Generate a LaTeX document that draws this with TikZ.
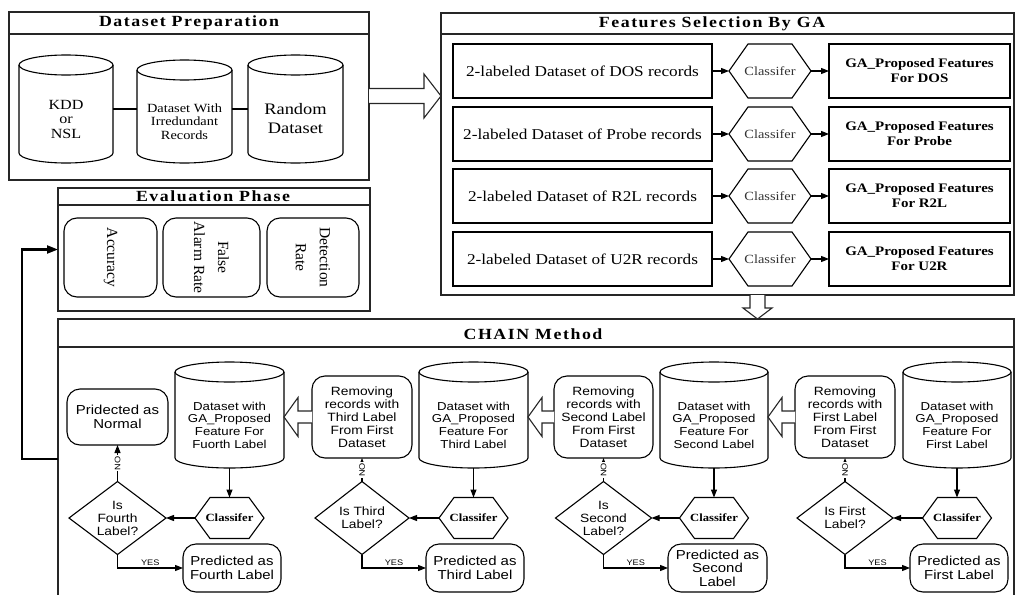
\documentclass[tikz,border=0pt]{standalone}
\usepackage{fontspec}
\setmainfont{Liberation Serif}[FakeStretch=1.15]
\setsansfont{Liberation Sans}[FakeStretch=1.15]
\newfontfamily\ttlfam{Liberation Serif}[FakeStretch=1.15,LetterSpace=10]
\newfontfamily\rotfam{Liberation Serif}
\usetikzlibrary{arrows.meta}

\newcommand\cylout[3]{%
  \draw[plainline] ([yshift=#3]#1.north west) -- ([yshift=#3]#1.south west)
    arc[start angle=180,end angle=360,x radius=#2,y radius=#3] -- ([yshift=#3]#1.north east);
  \draw[plainline] ([yshift=#3]#1.north) ellipse[x radius=#2,y radius=#3];}
\newcommand\hexout[2]{%
  \draw[plainline] (#1.west) -- ([xshift=#2]#1.north west) -- ([xshift=-#2]#1.north east)
    -- (#1.east) -- ([xshift=-#2]#1.south east) -- ([xshift=#2]#1.south west) -- cycle;}
\newcommand\diaout[1]{%
  \draw[plainline] (#1.north) -- (#1.east) -- (#1.south) -- (#1.west) -- cycle;}
\newcommand\hollowleft[2]{%
  \draw[hollowline] ([yshift=6pt]#1.west) -- ([xshift=14pt,yshift=6pt]#2)
    -- ([xshift=14pt,yshift=19.5pt]#2) -- (#2) -- ([xshift=14pt,yshift=-19.5pt]#2)
    -- ([xshift=14pt,yshift=-6pt]#2) -- ([yshift=-6pt]#1.west);}

\newcommand\ttlfont{\ttlfam\bfseries\fontsize{15.5}{18}\selectfont}
\newcommand\rowfont{\fontsize{15}{18}\selectfont}
\newcommand\gafont{\bfseries\fontsize{13}{15}\selectfont}
\newcommand\clsfont{\color{black!80}\fontsize{12.5}{14}\selectfont}
\newcommand\hexbold{\bfseries\fontsize{11}{13}\selectfont}
\newcommand\evfont{\rotfam\fontsize{15.5}{24}\selectfont}
\newcommand\sbody{\sffamily\fontsize{12}{13}\selectfont}
\newcommand\spred{\sffamily\fontsize{13}{14}\selectfont}
\newcommand\scyl{\sffamily\fontsize{11.5}{12.7}\selectfont}
\newcommand\ssmall{\sffamily\fontsize{8}{8}\selectfont}

\begin{document}
\begin{tikzpicture}[x=1pt,y=1pt,
  panel/.style={draw=black!85, line width=1.2pt, inner sep=0pt, outer sep=0pt},
  panelline/.style={draw=black!85, line width=1.2pt},
  plain/.style={draw=black, line width=1.1pt, inner sep=0pt, outer sep=0pt},
  plainline/.style={draw=black, line width=1.1pt},
  rbox/.style={plain, rounded corners=13pt},
  shp/.style={inner sep=0pt, outer sep=0pt},
  arr/.style={draw=black, line width=1.1pt, -{Triangle[length=8pt,width=6pt]}},
  hollowline/.style={draw=black!85, line width=1.1pt, fill=white, line join=miter},
  fb/.style={draw=black, line width=2.2pt, -{Triangle[length=11pt,width=8pt]}},
  ttl/.style={font=\ttlfont, inner sep=0pt}
]
\useasboundingbox (0,0) rectangle (1016,-594);

% ---------------- Dataset Preparation ----------------
\node[panel, minimum width=360pt, minimum height=168pt] (dp) at (189,-96) {};
\draw[panelline] ([yshift=-22pt]dp.north west) -- ([yshift=-22pt]dp.north east);
\node[ttl] (dpt) at (189,-23) {Dataset Preparation};

\node[shp, minimum width=94pt, minimum height=88pt, align=center,
      font=\fontsize{14}{14.5}\selectfont] (ka) at (66,-119) {KDD\\or\\NSL};
\cylout{ka}{47pt}{10pt}
\node[shp, minimum width=95pt, minimum height=83pt, align=center,
      font=\fontsize{12.5}{13.5}\selectfont] (kb) at (184.5,-121.5) {Dataset With\\Irredundant\\Records};
\cylout{kb}{47.5pt}{10pt}
\node[shp, minimum width=95pt, minimum height=88pt, align=center,
      font=\fontsize{16}{19}\selectfont] (kc) at (295.5,-119) {Random\\Dataset};
\cylout{kc}{47.5pt}{10pt}
\coordinate (ylink) at (0,-109);
\draw[plainline] (ka.east |- ylink) -- (kb.west |- ylink);
\draw[plainline] (kb.east |- ylink) -- (kc.west |- ylink);

% ---------------- Features Selection By GA ----------------
\node[panel, minimum width=573pt, minimum height=282pt] (fs) at (727.5,-154) {};
\draw[panelline] ([yshift=-21pt]fs.north west) -- ([yshift=-21pt]fs.north east);
\node[ttl] (fst) at (712,-24) {Features Selection By GA};

\foreach \n/\y/\t in {dos/71/DOS, probe/134/Probe, rtl/196/R2L, utr/259/U2R}{
  \node[plain, minimum width=259pt, minimum height=54pt, font=\rowfont] (r\n) at (582.5,-\y) {2-labeled Dataset of \t\ records};
  \node[shp, minimum width=82pt, minimum height=54pt, font=\clsfont] (h\n) at (770,-\y) {Classifer};
  \hexout{h\n}{19pt}
  \node[plain, minimum width=181pt, minimum height=54pt, align=center, font=\gafont] (g\n) at (919.5,-\y) {GA\_Proposed Features\\For \t};
  \draw[arr] (r\n.east) -- (h\n.west);
  \draw[arr] (h\n.east) -- (g\n.west);
}

% big hollow arrow Dataset Preparation -> Features
\coordinate (t0) at (fs.west |- dp.east);
\draw[hollowline] ([yshift=7.5pt]dp.east) -- ([xshift=-17pt,yshift=7.5pt]t0)
  -- ([xshift=-17pt,yshift=22pt]t0) -- (t0) -- ([xshift=-17pt,yshift=-22pt]t0)
  -- ([xshift=-17pt,yshift=-7.5pt]t0) -- ([yshift=-7.5pt]dp.east);

% ---------------- Evaluation Phase ----------------
\node[panel, minimum width=312pt, minimum height=123pt] (ev) at (214,-249.5) {};
\draw[panelline] ([yshift=-17pt]ev.north west) -- ([yshift=-17pt]ev.north east);
\node[ttl] (evt) at (213,-196.5) {Evaluation Phase};
\node[rbox, rotate=-90, minimum width=79pt, minimum height=93pt, align=center, font=\evfont] (acc) at (110.5,-257.5) {Accuracy};
\node[rbox, rotate=-90, minimum width=79pt, minimum height=97pt, align=center, font=\evfont] (far) at (211.5,-257.5) {False\\Alarm Rate};
\node[rbox, rotate=-90, minimum width=79pt, minimum height=92pt, align=center, font=\evfont] (det) at (313,-257.5) {Detection\\Rate};

% ---------------- CHAIN Method ----------------
\node[panel, minimum width=956pt, minimum height=280pt] (chain) at (536,-459) {};
\draw[panelline] ([yshift=-28pt]chain.north west) -- ([yshift=-28pt]chain.north east);
\node[ttl] (cht) at (533,-334) {CHAIN Method};

% down hollow arrow Features -> CHAIN
\coordinate (x5) at (757.5,0);
\coordinate (s5) at (x5 |- fs.south);
\coordinate (t5) at (x5 |- chain.north);
\draw[hollowline] ([xshift=-7.5pt]s5) -- ([xshift=-7.5pt,yshift=11pt]t5)
  -- ([xshift=-14.5pt,yshift=11pt]t5) -- (t5) -- ([xshift=14.5pt,yshift=11pt]t5)
  -- ([xshift=7.5pt,yshift=11pt]t5) -- ([xshift=7.5pt]s5);

% feedback to evaluation
\draw[fb] (chain.west) -- ++(-36pt,0) |- (ev.west);

% column 1 (first label)
\node[shp, minimum width=108pt, minimum height=86pt, align=center, font=\scyl] (c1) at (957,-425) {Dataset with\\GA\_Proposed\\Feature For\\First Label};
\cylout{c1}{54pt}{10pt}
\node[shp, minimum width=69pt, minimum height=41pt, font=\hexbold] (h1) at (957,-518) {Classifer};
\hexout{h1}{15pt}
\node[shp, minimum width=96pt, minimum height=73pt, align=center, font=\sbody] (d1) at (845,-518) {Is First\\Label?};
\diaout{d1}
\node[rbox, minimum width=98pt, minimum height=48pt, align=center, font=\spred] (p1) at (959,-568) {Predicted as\\First Label};
\node[rbox, minimum width=100pt, minimum height=82pt, align=center, font=\sbody] (m1) at (845,-417) {Removing\\records with\\First Label\\From First\\Dataset};

% column 2 (second label)
\node[shp, minimum width=108pt, minimum height=86pt, align=center, font=\scyl] (c2) at (714,-425) {Dataset with\\GA\_Proposed\\Feature For\\Second Label};
\cylout{c2}{54pt}{10pt}
\node[shp, minimum width=69pt, minimum height=41pt, font=\hexbold] (h2) at (714,-518) {Classifer};
\hexout{h2}{15pt}
\node[shp, minimum width=96pt, minimum height=73pt, align=center, font=\sbody] (d2) at (603.5,-518) {Is\\Second\\Label?};
\diaout{d2}
\node[rbox, minimum width=99pt, minimum height=48pt, align=center, font=\sffamily\fontsize{13}{13.5}\selectfont] (p2) at (717.5,-568) {Predicted as\\Second\\Label};
\node[rbox, minimum width=99pt, minimum height=82pt, align=center, font=\sbody] (m2) at (603.5,-417) {Removing\\records with\\Second Label\\From First\\Dataset};

% column 3 (third label)
\node[shp, minimum width=109pt, minimum height=86pt, align=center, font=\scyl] (c3) at (473.5,-425) {Dataset with\\GA\_Proposed\\Feature For\\Third Label};
\cylout{c3}{54.5pt}{10pt}
\node[shp, minimum width=69pt, minimum height=41pt, font=\hexbold] (h3) at (473.5,-518) {Classifer};
\hexout{h3}{15pt}
\node[shp, minimum width=94pt, minimum height=73pt, align=center, font=\sbody] (d3) at (362,-518) {Is Third\\Label?};
\diaout{d3}
\node[rbox, minimum width=98pt, minimum height=48pt, align=center, font=\spred] (p3) at (475,-568) {Predicted as\\Third Label};
\node[rbox, minimum width=100pt, minimum height=82pt, align=center, font=\sbody] (m3) at (362,-417) {Removing\\records with\\Third Label\\From First\\Dataset};

% column 4 (fourth label)
\node[shp, minimum width=109pt, minimum height=86pt, align=center, font=\scyl] (c4) at (229.5,-425) {Dataset with\\GA\_Proposed\\Feature For\\Fuorth Label};
\cylout{c4}{54.5pt}{10pt}
\node[shp, minimum width=69pt, minimum height=41pt, font=\hexbold] (h4) at (229.5,-518) {Classifer};
\hexout{h4}{15pt}
\node[shp, minimum width=97pt, minimum height=73pt, align=center, font=\sbody] (d4) at (117.5,-518) {Is\\Fourth\\Label?};
\diaout{d4}
\node[rbox, minimum width=98pt, minimum height=48pt, align=center, font=\spred] (p4) at (232,-568) {Predicted as\\Fourth Label};
\node[rbox, minimum width=101pt, minimum height=56pt, align=center, font=\spred] (n4) at (117.5,-417) {Pridected as\\Normal};

% connectors in each column
\foreach \i in {1,2,3,4}{
  \draw[arr] (c\i.south) -- (h\i.north);
  \draw[arr] (h\i.west) -- (d\i.east);
  \draw[arr] (d\i.south) |- (p\i.west) node[pos=0.75, above=1.5pt, font=\ssmall, inner sep=0pt] {YES};
}
\foreach \i in {1,2,3}{
  \draw[arr] (d\i.north) -- (m\i.south) node[midway, rotate=90, fill=white, inner sep=1pt, font=\ssmall] {NO};
}
\draw[arr] (d4.north) -- (n4.south) node[midway, rotate=90, fill=white, inner sep=1pt, font=\ssmall] {NO};

% hollow arrows between columns
\coordinate (t2) at (c2.east |- m1.west);
\hollowleft{m1}{t2}
\coordinate (t3) at (c3.east |- m2.west);
\hollowleft{m2}{t3}
\coordinate (t4) at (c4.east |- m3.west);
\hollowleft{m3}{t4}
\end{tikzpicture}
\end{document}
